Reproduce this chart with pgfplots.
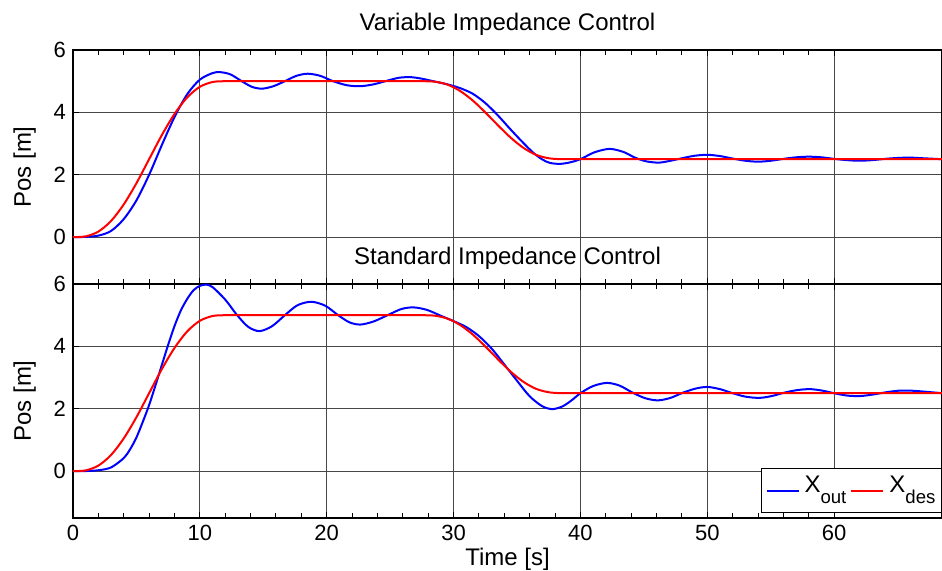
\documentclass[border=0pt]{standalone}
\usepackage{fontspec}
\setmainfont{Liberation Sans}
\usepackage{pgfplots}
\pgfplotsset{compat=1.18}

\newcommand\sub[1]{\raisebox{-5.5pt}{\fontsize{9.3}{10}\selectfont #1}}

\pgfplotstableread{
t v
0 0
1 0.026
2 0.18
3 0.52
4 1.05
5 1.73
6 2.5
7 3.27
8 3.95
9 4.48
10 4.82
11 4.974
12 5.0
13 5.0
20 5.0
27 5.0
27.5 5.0
28.5 4.985
29.5 4.893
30.5 4.69
31.5 4.385
32.5 4.0
33.5 3.585
34.5 3.19
35.5 2.865
36.5 2.64
37.5 2.53
38.5 2.5
39.5 2.5
50 2.5
68.5 2.5
}\desired

\pgfplotstableread{
t v
0 0
1 0.01
2 0.05
3 0.2
4 0.58
5 1.18
6 2.0
7 2.95
8 3.85
9 4.58
10 5.05
11 5.26
11.6 5.29
12.4 5.22
13.3 5.0
14.1 4.82
14.9 4.76
15.8 4.84
16.7 5.0
17.6 5.17
18.5 5.24
19.5 5.17
20.5 5.0
21.6 4.87
22.65 4.84
23.7 4.9
24.8 5.02
25.7 5.11
26.6 5.13
27.5 5.08
28.5 4.99
29.5 4.9
30.5 4.78
31.5 4.6
32.5 4.3
33.5 3.9
34.5 3.45
35.5 3.02
36.3 2.70
37 2.49
37.6 2.38
38.4 2.35
39.2 2.4
40 2.5
41.1 2.72
42.3 2.83
43.4 2.73
44.3 2.55
45.2 2.43
46.2 2.39
47.1 2.45
48 2.53
49 2.61
50 2.64
51 2.6
52 2.52
53 2.45
54 2.42
55 2.45
56 2.51
57 2.56
58 2.58
59 2.56
60 2.51
61 2.47
62 2.45
63 2.47
64 2.51
65 2.54
66 2.55
67 2.53
68.5 2.5
}\variable

\pgfplotstableread{
t v
0 0
1 0.005
2 0.03
3 0.12
4 0.42
4.5 0.7
5 1.08
5.5 1.58
6 2.12
6.5 2.75
7 3.4
7.5 4.05
8 4.65
8.5 5.15
9 5.52
9.5 5.8
10 5.94
10.5 5.98
11 5.9
12 5.5
12.9 5.02
13.8 4.63
14.7 4.49
15.7 4.65
16.7 5.0
17.7 5.32
18.8 5.43
19.9 5.3
20.9 5.0
21.8 4.77
22.65 4.7
23.7 4.8
24.9 5.02
25.9 5.2
26.85 5.25
27.9 5.17
29 4.98
30 4.81
31 4.62
32 4.33
33 3.93
34 3.42
35 2.9
36 2.4
37 2.08
37.8 1.99
38.6 2.08
39.3 2.27
40 2.5
41 2.73
42.1 2.83
43.1 2.74
44.1 2.52
45.1 2.34
46.1 2.27
47.1 2.35
48.1 2.52
49.1 2.65
50 2.7
51 2.63
52 2.5
53 2.39
54.1 2.35
55.1 2.41
56.1 2.52
57.1 2.6
58.1 2.63
59.1 2.58
60.1 2.49
61.1 2.42
62.1 2.41
63.1 2.46
64.1 2.53
65.1 2.58
66.1 2.58
67.1 2.55
68.5 2.5
}\standard

\pgfplotsset{
  myaxis/.style={
    scale only axis,
    width=434.5pt, height=117pt,
    xmin=0, xmax=68.5, ymin=-1.5, ymax=6,
    xtick={0,10,...,60}, ytick={0,2,4,6},
    minor x tick num=4,
    grid=major,
    major grid style={black!72, line width=0.5pt},
    tick align=inside,
    xtick pos=both, ytick pos=left,
    major tick length=3pt, minor tick length=2.5pt,
    tick style={black, line width=0.5pt},
    axis line style={line width=0.7pt},
    /pgf/number format/assume math mode=true,
    tick label style={font=\fontsize{11}{13}\selectfont},
    label style={font=\fontsize{12}{14}\selectfont},
    title style={font=\fontsize{12}{14}\selectfont, yshift=-2.5pt},
    ylabel={Pos [m]},
    ylabel style={yshift=2pt},
  },
  legend image code/.code={\draw[#1] (0pt,0pt) -- (16pt,0pt);},
}

\begin{document}
\begin{tikzpicture}
\useasboundingbox (-36.5pt,25pt) rectangle (434.5pt,-260.5pt);
\begin{axis}[myaxis, at={(0pt,0pt)}, anchor=north west,
  title={Variable Impedance Control},
  xticklabels={}]
\addplot[blue, line width=1pt, smooth] table {\variable};
\addplot[red, line width=1pt, smooth] table {\desired};
\end{axis}
\begin{axis}[myaxis, at={(0pt,-117pt)}, anchor=north west,
  title={Standard Impedance Control},
  xlabel={Time [s]},
  xlabel style={yshift=3pt},
  legend columns=2,
  legend style={at={(1,0.02)}, anchor=south east, draw=black, line width=0.6pt,
    font=\fontsize{12}{14}\selectfont, inner xsep=2pt, inner ysep=1pt,
    /tikz/every odd column/.append style={column sep=1.5pt},
    /tikz/every even column/.append style={column sep=1pt},
    nodes={inner sep=1pt, text height=10pt, text depth=8pt}}]
\addplot[blue, line width=1pt, smooth] table {\standard};
\addlegendentry{X\sub{out}}
\addplot[red, line width=1pt, smooth] table {\desired};
\addlegendentry{X\sub{des}}
\end{axis}
\end{tikzpicture}
\end{document}
